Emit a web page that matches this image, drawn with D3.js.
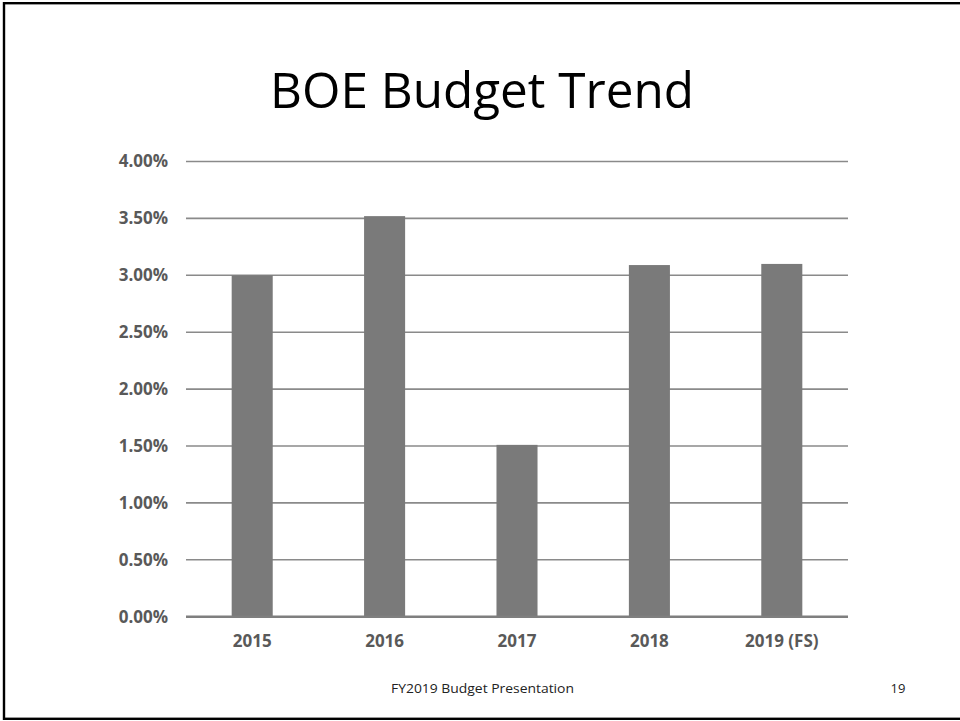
<!DOCTYPE html>
<html>
<head>
<meta charset="utf-8">
<script src="https://cdn.jsdelivr.net/npm/d3@7"></script>
<style>
  html, body { margin: 0; padding: 0; background: #fff; }
  svg { display: block; }
</style>
</head>
<body>
<svg id="chart" width="960" height="721"></svg>
<script>
// Annual BOE budget change, in percent
const years = ["2015", "2016", "2017", "2018", "2019 (FS)"];
const growth = [3.00, 3.52, 1.51, 3.09, 3.10];
const yTicks = [0, 0.5, 1, 1.5, 2, 2.5, 3, 3.5, 4];

const svg = d3.select("#chart");
const W = 960, H = 721;
const margin = { left: 186, right: 112, top: 161.5, bottom: 104.3 };

// slide frame
svg.append("rect")
  .attr("x", 4).attr("y", 3.2)
  .attr("width", 1000).attr("height", 715.6)
  .attr("fill", "none").attr("stroke", "#000").attr("stroke-width", 2.4);

// title
svg.append("text")
  .attr("x", 482).attr("y", 108)
  .attr("text-anchor", "middle")
  .attr("font-family", "'Open Sans', sans-serif")
  .attr("font-size", 49)
  .attr("textLength", 424)
  .attr("lengthAdjust", "spacingAndGlyphs")
  .attr("fill", "#000")
  .text("BOE Budget Trend");

const x = d3.scaleBand()
  .domain(years)
  .range([margin.left, W - margin.right])
  .paddingInner(0.69)
  .paddingOuter(0.345);

const y = d3.scaleLinear()
  .domain([0, 4])
  .range([H - margin.bottom, margin.top]);

// horizontal gridlines
svg.append("g")
  .selectAll("line")
  .data(yTicks.filter(d => d > 0))
  .join("line")
  .attr("x1", margin.left).attr("x2", W - margin.right)
  .attr("y1", d => y(d)).attr("y2", d => y(d))
  .attr("stroke", "#8a8a8a").attr("stroke-width", 1.6);

// y axis labels
const yAxis = d3.axisLeft(y)
  .tickValues(yTicks)
  .tickFormat(d => d3.format(".2f")(d) + "%")
  .tickSize(0)
  .tickPadding(18);

const yg = svg.append("g")
  .attr("transform", `translate(${margin.left},0)`)
  .call(yAxis);
yg.select(".domain").remove();
yg.selectAll("text")
  .attr("font-family", "'Open Sans', sans-serif")
  .attr("font-weight", "bold")
  .attr("font-size", 17)
  .attr("fill", "#595959");

// bars
svg.append("g")
  .selectAll("rect")
  .data(years.map((yr, i) => ({ yr, v: growth[i] })))
  .join("rect")
  .attr("x", d => x(d.yr))
  .attr("width", x.bandwidth())
  .attr("y", d => y(d.v))
  .attr("height", d => y(0) - y(d.v))
  .attr("fill", "#7a7a7a");

// baseline
svg.append("line")
  .attr("x1", margin.left).attr("x2", W - margin.right)
  .attr("y1", y(0)).attr("y2", y(0))
  .attr("stroke", "#7f7f7f").attr("stroke-width", 2.4);

// x axis labels
const xAxis = d3.axisBottom(x).tickSize(0).tickPadding(18);
const xg = svg.append("g")
  .attr("transform", `translate(0,${y(0)})`)
  .call(xAxis);
xg.select(".domain").remove();
xg.selectAll("text")
  .attr("font-family", "'Open Sans', sans-serif")
  .attr("font-weight", "bold")
  .attr("font-size", 17)
  .attr("fill", "#595959");

// footer
svg.append("text")
  .attr("x", 482.5).attr("y", 693)
  .attr("text-anchor", "middle")
  .attr("font-family", "'Open Sans', sans-serif")
  .attr("font-size", 13)
  .attr("textLength", 183)
  .attr("lengthAdjust", "spacingAndGlyphs")
  .attr("fill", "#222")
  .text("FY2019 Budget Presentation");

svg.append("text")
  .attr("x", 898).attr("y", 693)
  .attr("text-anchor", "middle")
  .attr("font-family", "'Open Sans', sans-serif")
  .attr("font-size", 13)
  .attr("fill", "#222")
  .text("19");
</script>
</body>
</html>
